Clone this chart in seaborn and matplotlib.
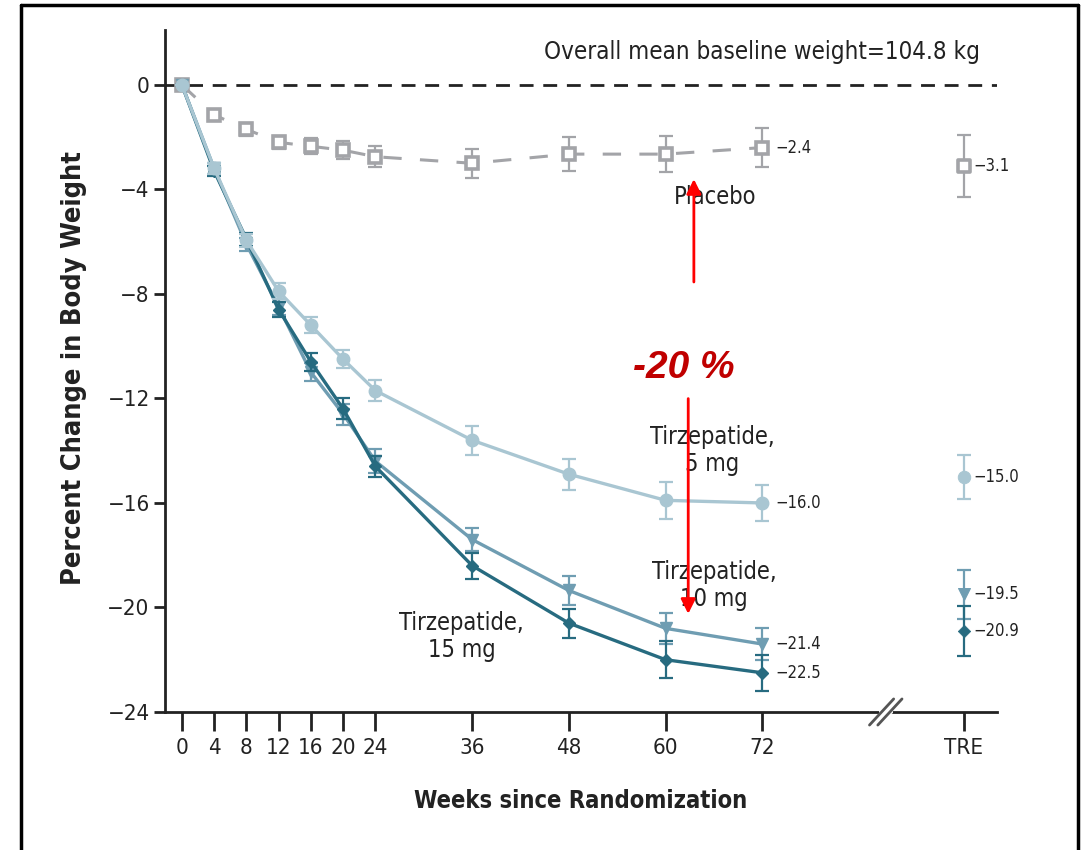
import matplotlib
matplotlib.use("Agg")
import matplotlib.pyplot as plt
from matplotlib.lines import Line2D
from matplotlib.transforms import offset_copy
import numpy as np
import pandas as pd
import seaborn as sns

# ---------------- data ----------------
weeks = [0, 4, 8, 12, 16, 20, 24, 36, 48, 60, 72]
week_ticks = [0, 4, 8, 12, 16, 20, 24, 36, 48, 60, 72]
tre_pos = 97
tre_label = "TRE"

placebo = [0, -1.15, -1.7, -2.2, -2.35, -2.5, -2.75, -3.0, -2.65, -2.65, -2.4]
placebo_err = [0, 0.2, 0.25, 0.25, 0.3, 0.35, 0.4, 0.55, 0.65, 0.7, 0.75]
tirz5 = [0, -3.2, -5.95, -7.9, -9.2, -10.5, -11.7, -13.6, -14.9, -15.9, -16.0]
tirz5_err = [0, 0.2, 0.25, 0.3, 0.3, 0.35, 0.4, 0.55, 0.6, 0.7, 0.7]
tirz10 = [0, -3.2, -6.1, -8.5, -11.0, -12.6, -14.4, -17.4, -19.35, -20.8, -21.4]
tirz10_err = [0, 0.2, 0.25, 0.3, 0.35, 0.4, 0.45, 0.45, 0.55, 0.6, 0.6]
tirz15 = [0, -3.3, -5.9, -8.6, -10.6, -12.4, -14.6, -18.4, -20.6, -22.0, -22.5]
tirz15_err = [0, 0.2, 0.25, 0.3, 0.35, 0.4, 0.4, 0.5, 0.55, 0.7, 0.7]

groups = ["Placebo", "Tirzepatide, 5 mg", "Tirzepatide, 10 mg", "Tirzepatide, 15 mg"]
tre_values = [-3.1, -15.0, -19.5, -20.9]
tre_err = [1.2, 0.85, 0.95, 0.95]
end_labels = ["\u22122.4", "\u221216.0", "\u221221.4", "\u221222.5"]
tre_labels = ["\u22123.1", "\u221215.0", "\u221219.5", "\u221220.9"]
y_ticks = [0, -4, -8, -12, -16, -20, -24]

colors = ["#a3a4a8", "#a9c6d2", "#6f9db2", "#276b80"]
markers = ["s", "o", "v", "D"]
zorders = [5, 8, 6, 7]

# ---------------- style ----------------
sns.set_theme(style="ticks")
plt.rcParams["font.family"] = ["DejaVu Sans"]
plt.rcParams["font.stretch"] = "condensed"
TXT = "#222222"

fig = plt.figure(figsize=(10.88, 8.5), dpi=100)
ax = fig.add_axes([165 / 1088, 138 / 850, 832 / 1088, 682 / 850])

series = [placebo, tirz5, tirz10, tirz15]
errs = [placebo_err, tirz5_err, tirz10_err, tirz15_err]
df = pd.concat(
    [pd.DataFrame({"week": weeks, "change": s, "group": g}) for s, g in zip(series, groups)],
    ignore_index=True,
)

# reference line at 0
ax.axhline(0, color=TXT, lw=2, linestyle=(0, (5, 3.5)), zorder=1)

for i, g in enumerate(groups):
    sub = df[df["group"] == g]
    col = colors[i]
    ax.errorbar(weeks, series[i], yerr=errs[i], fmt="none", ecolor=col,
                elinewidth=1.6, capsize=5, capthick=1.6, zorder=zorders[i] - 0.5)
    if i == 0:
        sns.lineplot(data=sub, x="week", y="change", ax=ax, color=col, lw=2.2,
                     linestyle=(0, (6, 6)), marker="s", markersize=9,
                     markerfacecolor="white", markeredgecolor=col,
                     markeredgewidth=2.6, legend=False, zorder=zorders[i])
    else:
        ms = {1: 9, 2: 8.5, 3: 6}[i]
        sns.lineplot(data=sub, x="week", y="change", ax=ax, color=col, lw=2.4,
                     marker=markers[i], markersize=ms, markerfacecolor=col,
                     markeredgecolor=col, markeredgewidth=1, legend=False,
                     zorder=zorders[i])
    ax.annotate(end_labels[i], (72, series[i][-1]), xytext=(9, 0),
                textcoords="offset points", va="center", ha="left",
                fontsize=12, color=TXT)

# TRE points
tre_df = pd.DataFrame({"x": [tre_pos] * 4, "y": tre_values, "group": groups})
for i, g in enumerate(groups):
    ax.errorbar([tre_pos], [tre_values[i]], yerr=[tre_err[i]], fmt="none",
                ecolor=colors[i], elinewidth=1.6, capsize=5, capthick=1.6, zorder=3)
sns.scatterplot(data=tre_df[tre_df.group == groups[0]], x="x", y="y", ax=ax,
                marker="s", s=80, facecolor="white", edgecolor=colors[0],
                linewidth=2.6, legend=False, zorder=6)
for i in range(1, 4):
    size = {1: 80, 2: 75, 3: 40}[i]
    sns.scatterplot(data=tre_df[tre_df.group == groups[i]], x="x", y="y", ax=ax,
                    marker=markers[i], s=size, color=colors[i], edgecolor=colors[i],
                    legend=False, zorder=6)
for i in range(4):
    ax.annotate(tre_labels[i], (tre_pos, tre_values[i]), xytext=(7, 0),
                textcoords="offset points", va="center", ha="left",
                fontsize=12, color=TXT)

# axes
ax.set_xlim(-2.1, 101.1)
ax.set_ylim(-24, 2.1)
ax.set_xticks(week_ticks + [tre_pos])
ax.set_xticklabels([str(w) for w in week_ticks] + [tre_label])
ax.set_yticks(y_ticks)
ax.set_yticklabels([("\u2212" + str(-t)) if t < 0 else str(t) for t in y_ticks])
ax.tick_params(axis="x", direction="out", length=14, width=2, labelsize=16,
               pad=5, colors=TXT)
ax.tick_params(axis="y", direction="out", length=8, width=2, labelsize=16,
               pad=3, colors=TXT)
for s in ["top", "right"]:
    ax.spines[s].set_visible(False)
for s in ["left", "bottom"]:
    ax.spines[s].set_linewidth(2)
    ax.spines[s].set_color(TXT)

ax.set_xlabel("Weeks since Randomization", fontsize=17, fontweight="bold", color=TXT)
ax.set_ylabel("Percent Change in Body Weight", fontsize=19.5, fontweight="bold", color=TXT)
ax.xaxis.set_label_coords((581 - 165) / 832, (712 - 801) / 682)
ax.xaxis.label.set_va("center")
ax.yaxis.set_label_coords((74 - 165) / 832, (712 - 368) / 682)
ax.yaxis.label.set_va("center")

# axis break marks
bx = 87.3
ax.plot([bx - 0.6, bx + 0.6], [-24, -24], color="white", lw=3, clip_on=False, zorder=9)
for dx in (-3.0, 3.0):
    base = offset_copy(ax.transData, fig=fig, x=dx, y=0, units="points")
    ax.plot([bx - 1.5, bx + 1.5], [-24 - 0.5, -24 + 0.5], color="#555555",
            lw=2, clip_on=False, zorder=10, transform=base)

# text annotations
ax.text(99.0, 1.26, "Overall mean baseline weight=104.8 kg", ha="right", va="center",
        fontsize=17.3, color=TXT)
ax.text(66.1, -4.3, "Placebo", ha="center", va="center", fontsize=17, color=TXT)
ax.text(65.8, -14.0, "Tirzepatide,\n5 mg", ha="center", va="center", fontsize=17,
        color=TXT, linespacing=1.15)
ax.text(66.0, -19.15, "Tirzepatide,\n10 mg", ha="center", va="center", fontsize=17,
        color=TXT, linespacing=1.15)
ax.text(34.7, -21.1, "Tirzepatide,\n15 mg", ha="center", va="center", fontsize=17,
        color=TXT, linespacing=1.15)

# red arrows and -20 %
ax.annotate("", xy=(63.5, -3.5), xytext=(63.5, -7.65),
            arrowprops=dict(arrowstyle="-|>", color="red", lw=2, mutation_scale=22),
            zorder=12)
ax.annotate("", xy=(62.8, -20.35), xytext=(62.8, -11.9),
            arrowprops=dict(arrowstyle="-|>", color="red", lw=2, mutation_scale=22),
            zorder=12)
ax.text(62.3, -10.85, "-20 %", ha="center", va="center", fontsize=28,
        fontweight="bold", fontstyle="italic", color="#c00000",
        family=["Liberation Sans", "DejaVu Sans"], fontstretch="normal", zorder=12)

# figure border
W, H = 1088, 850
for (x0, y0, x1, y1) in [(21, 5, 21, 855), (21, 5, 1078, 5), (1078, 5, 1078, 855)]:
    fig.add_artist(Line2D([x0 / W, x1 / W], [1 - y0 / H, 1 - y1 / H],
                          color="black", lw=2.5, transform=fig.transFigure))

fig.savefig("out.png", dpi=100, facecolor="white")
